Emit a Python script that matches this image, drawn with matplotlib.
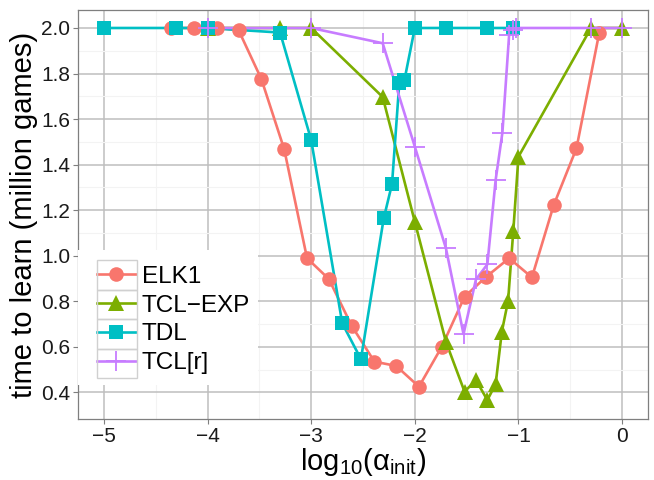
import matplotlib
matplotlib.use("Agg")
import matplotlib.pyplot as plt
from matplotlib.patches import Rectangle

# --- data ---
elk_x = [-4.35, -4.13, -3.91, -3.70, -3.48, -3.26, -3.04, -2.83, -2.61, -2.39,
         -2.18, -1.96, -1.74, -1.52, -1.31, -1.09, -0.87, -0.66, -0.44, -0.22]
elk_y = [2.0, 2.0, 2.0, 1.99, 1.775, 1.467, 0.989, 0.898, 0.693, 0.535,
         0.516, 0.425, 0.600, 0.820, 0.908, 0.989, 0.905, 1.222, 1.472, 1.98]

tclexp_x = [-4.0, -3.3, -3.0, -2.31, -2.0, -1.7, -1.52, -1.41, -1.30, -1.22,
            -1.16, -1.10, -1.05, -1.0, -0.3, 0.0]
tclexp_y = [2.0, 2.0, 2.0, 1.697, 1.149, 0.622, 0.403, 0.454, 0.366, 0.437,
            0.667, 0.802, 1.108, 1.435, 2.0, 2.0]

tdl_x = [-5.0, -4.3, -4.0, -3.3, -3.0, -2.7, -2.52, -2.3, -2.22, -2.15,
         -2.1, -2.0, -1.7, -1.3, -1.05]
tdl_y = [2.0, 2.0, 2.0, 1.98, 1.508, 0.703, 0.546, 1.164, 1.315, 1.757,
         1.772, 2.0, 2.0, 2.0, 2.0]

tclr_x = [-4.0, -3.0, -2.31, -2.0, -1.7, -1.53, -1.41, -1.30, -1.22, -1.155,
          -1.09, -1.05, -1.02, -0.3, 0.0]
tclr_y = [2.0, 2.0, 1.933, 1.479, 1.033, 0.656, 0.896, 0.962, 1.333, 1.54,
          1.97, 1.99, 2.0, 2.0, 2.0]

series_names = ["ELK1", "TCL\u2212EXP", "TDL", "TCL[r]"]
x_ticks = [-5, -4, -3, -2, -1, 0]
y_ticks = [0.4, 0.6, 0.8, 1.0, 1.2, 1.4, 1.6, 1.8, 2.0]

# ggplot-ish look
plt.rcParams['font.family'] = ['Liberation Sans', 'DejaVu Sans']
plt.rcParams['mathtext.fontset'] = 'custom'
plt.rcParams['mathtext.rm'] = 'Liberation Sans'
plt.rcParams['mathtext.it'] = 'Liberation Sans'

colors = ['#F8766D', '#7CAE00', '#00BFC4', '#C77CFF']
markers = ['o', '^', 's', '+']
msizes = [10.5, 12, 10, 15]
series = [(elk_x, elk_y), (tclexp_x, tclexp_y), (tdl_x, tdl_y), (tclr_x, tclr_y)]

W, H = 654, 480
fig = plt.figure(figsize=(W / 100, H / 100), dpi=100)
ax = fig.add_axes([78 / W, 1 - 419 / H, 570 / W, 409 / H])

# lines first, then points (like geom_line + geom_point)
for (xs, ys), c in zip(series, colors):
    ax.plot(xs, ys, color=c, lw=1.9, zorder=3, solid_joinstyle='round')
handles = []
for (xs, ys), c, m, ms, name in zip(series, colors, markers, msizes, series_names):
    mew = 1.3 if m == '+' else 0
    ax.plot(xs, ys, ls='none', marker=m, ms=ms, color=c, mew=mew, zorder=4)
    h, = ax.plot([], [], color=c, lw=1.9, marker=m, ms=ms, mew=mew)
    handles.append(h)

ax.set_xlim(-5.25, 0.25)
ax.set_ylim(0.283, 2.079)
ax.set_xticks(x_ticks)
ax.set_xticklabels([str(t).replace('-', '\u2212') for t in x_ticks])
ax.set_yticks(y_ticks)
ax.set_yticklabels(['%.1f' % t for t in y_ticks])
ax.set_xticks([-4.5, -3.5, -2.5, -1.5, -0.5], minor=True)
ax.set_yticks([0.5, 0.7, 0.9, 1.1, 1.3, 1.5, 1.7, 1.9], minor=True)

ax.grid(which='major', color='#BEBEBE', lw=1.1, zorder=0)
ax.grid(which='minor', color='#F3F3F3', lw=0.8, zorder=0)
ax.set_axisbelow(True)
ax.tick_params(which='major', direction='out', length=3.5, width=0.8, color='#7F7F7F',
               labelsize=15, labelcolor='#1A1A1A', pad=2)
ax.tick_params(which='minor', length=0)
for s in ax.spines.values():
    s.set_color('#7F7F7F')
    s.set_linewidth(0.9)

ax.set_xlabel(r'$\mathrm{log}_{10}(\alpha_{\mathrm{init}})$', fontsize=21, labelpad=0)
ax.set_ylabel('time to learn (million games)', fontsize=21, labelpad=2)

# legend: white background box, grey key boxes, no outer frame
fig.add_artist(Rectangle((78 / W, 1 - 385 / H), 180 / W, 135 / H,
                         transform=fig.transFigure, fc='white', ec='none', zorder=5))
leg = fig.legend(handles, series_names, loc='center left',
                 bbox_to_anchor=(97 / W, 1 - 320 / H), bbox_transform=fig.transFigure,
                 fontsize=17.5, frameon=False, borderaxespad=0, borderpad=0,
                 handlelength=1.6, handletextpad=0.25, labelspacing=0.28)
leg.set_zorder(6)

for i in range(4):
    y0 = 260 + i * 29.5
    fig.add_artist(Rectangle((97 / W, 1 - (y0 + 29.5) / H), 40 / W, 29.5 / H,
                             transform=fig.transFigure, fill=False, ec='#D0D0D0',
                             lw=1.0, zorder=7))

fig.savefig('out.png', dpi=100)
